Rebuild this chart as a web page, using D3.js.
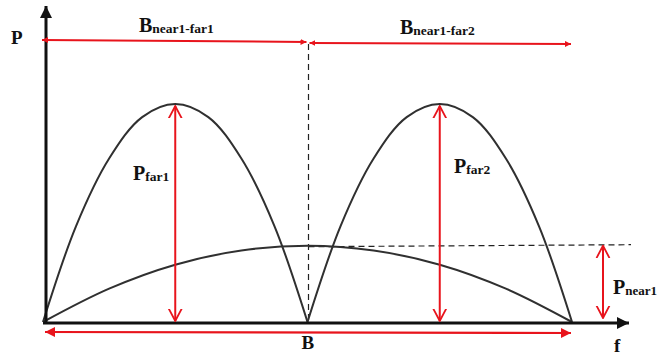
<!DOCTYPE html>
<html>
<head>
<meta charset="utf-8">
<script src="https://cdn.jsdelivr.net/npm/d3@7"></script>
<style>
  body { margin: 0; background: #fff; }
  svg { display: block; }
</style>
</head>
<body>
<div class="canvas"></div>
<script>
// Config
var width = 659,
    height = 356,
    red = '#e8141c',
    ink = '#111',
    curveColor = '#303030';

// Data: frequency (in units of B) and normalised power
var farFreq = [0, 0.125, 0.25, 0.375, 0.5, 0.625, 0.75, 0.875, 1];
var far1Power = [0, 0.44, 0.75, 0.94, 1, 0.94, 0.75, 0.44, 0];
var far2Power = [0, 0.44, 0.75, 0.94, 1, 0.94, 0.75, 0.44, 0];
var nearFreq = [0, 0.25, 0.5, 0.75, 1, 1.25, 1.5, 1.75, 2];
var nearPower = [0, 0.153, 0.263, 0.328, 0.35, 0.328, 0.263, 0.153, 0];
var bandEdges = [0, 1, 2];            // start, B, 2B
var peakFreqs = [0.5, 1.5];           // far peaks
var nearLevel = 0.35;

var x = d3.scaleLinear().domain([0, 2]).range([43, 572]);
var y = d3.scaleLinear().domain([0, 1]).range([322, 104]);

var svg = d3.select('.canvas').append('svg')
    .attr('width', width)
    .attr('height', height)
    .style('background-color', '#fff');

var defs = svg.append('defs');
function marker(id, color, w, h, open) {
    var m = defs.append('marker')
        .attr('id', id)
        .attr('viewBox', '0 0 10 10')
        .attr('refX', open ? 9.5 : 10).attr('refY', 5)
        .attr('markerWidth', w).attr('markerHeight', h)
        .attr('markerUnits', 'userSpaceOnUse')
        .attr('orient', 'auto-start-reverse');
    if (open) {
        m.append('path').attr('d', 'M0,0 L9.5,5 L0,10')
            .attr('fill', 'none').attr('stroke', color).attr('stroke-width', 1.4);
    } else {
        m.append('path').attr('d', 'M0,0 L10,5 L0,10 Z').attr('fill', color);
    }
}
marker('blackHead', ink, 12, 12, false);
marker('redBig', red, 12, 10, false);
marker('redSmall', red, 6, 6, false);
marker('redOpen', red, 13, 18, true);

// Dashed guides
svg.append('line')
    .attr('x1', x(bandEdges[1]) + 1).attr('x2', x(bandEdges[1]) + 1)
    .attr('y1', 44).attr('y2', y(0))
    .attr('stroke', '#222').attr('stroke-width', 1.2)
    .attr('stroke-dasharray', '6,4');
svg.append('line')
    .attr('x1', x(bandEdges[1]) + 1).attr('x2', 631)
    .attr('y1', y(nearLevel) + 1).attr('y2', y(nearLevel) - 1)
    .attr('stroke', '#222').attr('stroke-width', 1.2)
    .attr('stroke-dasharray', '6,4');

// Curves
var line = d3.line().curve(d3.curveCatmullRom);
function drawCurve(freqs, powers, offset) {
    svg.append('path')
        .attr('d', line(freqs.map(function (f, i) { return [x(f + offset), y(powers[i])]; })))
        .attr('fill', 'none')
        .attr('stroke', curveColor)
        .attr('stroke-width', 2);
}
drawCurve(farFreq, far1Power, bandEdges[0]);
drawCurve(farFreq, far2Power, bandEdges[1]);
drawCurve(nearFreq, nearPower, 0);

// Axes
svg.append('line')
    .attr('x1', 46).attr('y1', 324).attr('x2', 46).attr('y2', 6)
    .attr('stroke', ink).attr('stroke-width', 3)
    .attr('marker-end', 'url(#blackHead)');
svg.append('line')
    .attr('x1', 43).attr('y1', 323).attr('x2', 629).attr('y2', 323)
    .attr('stroke', ink).attr('stroke-width', 3)
    .attr('marker-end', 'url(#blackHead)');

// Red arrows
function arrow(x1, y1, x2, y2, head, both, w) {
    svg.append('line')
        .attr('x1', x1).attr('y1', y1).attr('x2', x2).attr('y2', y2)
        .attr('stroke', red).attr('stroke-width', w || 2)
        .attr('marker-end', 'url(#' + head + ')')
        .attr('marker-start', both ? 'url(#' + head + ')' : null);
}
arrow(x(bandEdges[0]) - 1, 40, x(bandEdges[1]) - 1, 42, 'redSmall', true, 2);
arrow(x(bandEdges[1]) + 2, 43, x(bandEdges[2]) - 1, 44, 'redSmall', true, 2);
arrow(x(bandEdges[0]) + 2, 332, x(bandEdges[2]) - 1, 333, 'redBig', true, 2.2);
peakFreqs.forEach(function (f) {
    arrow(x(f), y(0) - 1, x(f), y(1) + 2, 'redOpen', true, 2);
});
arrow(603, y(0) - 4, 603, y(nearLevel), 'redOpen', true, 2);

// Labels
var font = 'Liberation Serif, DejaVu Serif, serif';
function label(tx, ty, main, sub, size, subSize) {
    var t = svg.append('text')
        .attr('x', tx).attr('y', ty)
        .style('font-family', font)
        .attr('font-weight', 'bold')
        .attr('font-size', size)
        .attr('fill', ink)
        .text(main);
    if (sub) {
        t.append('tspan').attr('font-size', subSize).attr('dy', 1).text(sub);
    }
}
label(11, 44, 'P', null, 19);
label(139, 32, 'B', 'near1-far1', 20, 13.5);
label(400, 34, 'B', 'near1-far2', 20, 13.5);
label(133, 180, 'P', 'far1', 20, 13.5);
label(454, 173, 'P', 'far2', 20, 13.5);
label(613, 294, 'P', 'near1', 20, 13);
label(x(bandEdges[1]) - 6, 349, 'B', null, 19);
label(614, 352, 'f', null, 19);
</script>
</body>
</html>
